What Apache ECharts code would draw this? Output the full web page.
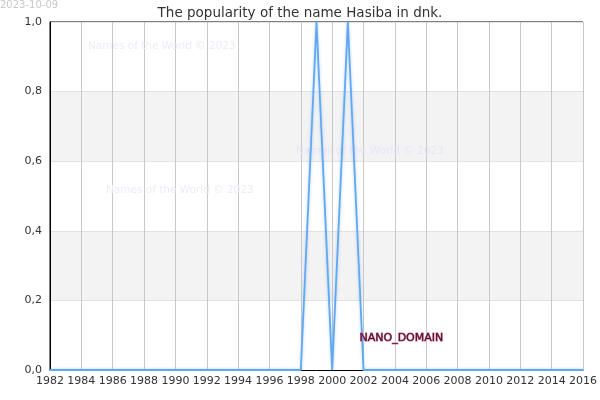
<!DOCTYPE html>
<html><head><meta charset="utf-8">
<script src="https://cdn.jsdelivr.net/npm/echarts@6/dist/echarts.min.js"></script>
<style>html,body{margin:0;padding:0;background:#fff}#c{width:600px;height:400px}</style>
</head><body><div id="c"></div>
<script>
const years = [1982,1983,1984,1985,1986,1987,1988,1989,1990,1991,1992,1993,1994,1995,1996,1997,1998,1999,2000,2001,2002,2003,2004,2005,2006,2007,2008,2009,2010,2011,2012,2013,2014,2015,2016];
const popularity = [0,0,0,0,0,0,0,0,0,0,0,0,0,0,0,0,0,1,0,1,0,0,0,0,0,0,0,0,0,0,0,0,0,0,0];
const titleText = 'The popularity of the name Hasiba in dnk.';
const dateText = '2023-10-09';
const watermark = 'Names of the World © 2023';
const chart = echarts.init(document.getElementById('c'));
const F = 'DejaVu Sans';
chart.setOption({
  animation:false,
  textStyle:{fontFamily:F},
  title:{text:titleText,left:'center',top:1,textStyle:{fontFamily:F,fontSize:13.5,fontWeight:'normal',color:'#333'}},
  grid:{left:50,right:15,top:22,bottom:30,show:true,borderColor:'#000',borderWidth:1,backgroundColor:'transparent'},
  xAxis:{type:'value',min:1982,max:2016,interval:2,
    axisLine:{show:true,lineStyle:{color:'#000'}},axisTick:{show:false},
    axisLabel:{color:'#333',fontSize:11,fontFamily:F,margin:6,formatter:v=>String(v)},
    splitLine:{show:true,lineStyle:{color:'#c8c8c8',width:1}}},
  yAxis:{type:'value',min:0,max:1,interval:0.2,
    axisLine:{show:true,lineStyle:{color:'#000'}},axisTick:{show:false},
    axisLabel:{color:'#333',fontSize:11,fontFamily:F,formatter:v=>v.toFixed(1).replace('.',',')},
    splitLine:{show:true,lineStyle:{color:'#e2e2e2',width:1}},
    splitArea:{show:true,areaStyle:{color:['#ffffff','#f3f3f3']}}},
  graphic:[
    {type:'text',left:0,top:0,style:{text:dateText,fill:'#c8c8c8',font:'10px "DejaVu Sans"'}},
    {type:'text',left:88,top:41,z:1,style:{text:watermark,fill:'#ececfb',font:'10.5px "DejaVu Sans"'}},
    {type:'text',left:296,top:146,z:1,style:{text:watermark,fill:'#e6e6f6',font:'10.5px "DejaVu Sans"'}},
    {type:'text',left:106,top:185,z:1,style:{text:watermark,fill:'#ececfb',font:'10.5px "DejaVu Sans"'}},
    {type:'text',left:359,top:332,z:100,style:{text:'NANO_DOMAIN',fill:'#4a1030',stroke:'#c86a8a',lineWidth:1,font:'11px "DejaVu Sans"'}}
  ],
  series:[{type:'line',data:years.map((y,i)=>[y,popularity[i]]),showSymbol:false,
    lineStyle:{color:'#62a8f0',width:1.8,shadowColor:'rgba(98,168,240,0.5)',shadowBlur:3},z:5}]
});
</script></body></html>
